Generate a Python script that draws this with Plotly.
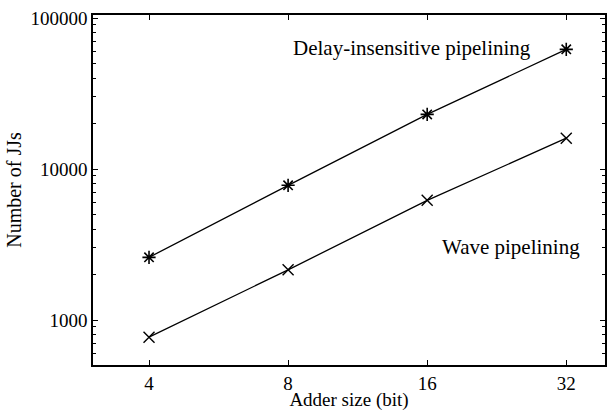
import math
import plotly.graph_objects as go

adder_bits = [4, 8, 16, 32]
di_jjs = [2600, 7800, 23000, 62000]
wave_jjs = [770, 2150, 6200, 16000]
x_ticks = [4, 8, 16, 32]
y_ticks = [1000, 10000, 100000]
y_tick_labels = ["1000", "10000", "100000"]
y_minor = [600, 700, 800, 900, 2000, 3000, 4000, 5000, 6000, 7000, 8000, 9000,
           20000, 30000, 40000, 50000, 60000, 70000, 80000, 90000]

FONT = "Liberation Serif, Times New Roman, serif"

fig = go.Figure()
fig.add_trace(go.Scatter(
    x=adder_bits, y=di_jjs, mode="lines+markers",
    line=dict(color="black", width=1.3),
    marker=dict(symbol="asterisk-open", size=11, color="black",
                line=dict(color="black", width=1.6)),
    showlegend=False))
fig.add_trace(go.Scatter(
    x=adder_bits, y=wave_jjs, mode="lines+markers",
    line=dict(color="black", width=1.3),
    marker=dict(symbol="x-thin-open", size=11, color="black",
                line=dict(color="black", width=1.4)),
    showlegend=False))

fig.add_annotation(x=math.log10(14.85), y=4.80, text="Delay-insensitive pipelining",
                   showarrow=False, font=dict(family=FONT, size=21, color="black"))
fig.add_annotation(x=1.386, y=3.483, text="Wave pipelining",
                   showarrow=False, font=dict(family=FONT, size=21, color="black"))

fig.update_xaxes(type="log", range=[0.4808, 1.589], tickvals=x_ticks,
                 ticktext=[str(v) for v in x_ticks],
                 ticks="inside", ticklen=5, tickwidth=1, tickcolor="black",
                 showline=True, linecolor="black", linewidth=1.5, mirror="ticks",
                 showgrid=False, zeroline=False, automargin=False,
                 title=dict(text="Adder size (bit)", standoff=5,
                            font=dict(family=FONT, size=19, color="black")),
                 tickfont=dict(family=FONT, size=19, color="black"))
fig.update_yaxes(type="log", range=[2.702, 5.02], tickvals=y_ticks,
                 ticktext=y_tick_labels,
                 ticks="inside", ticklen=5, tickwidth=1, tickcolor="black",
                 minor=dict(tickvals=y_minor, ticks="inside", ticklen=3,
                            tickcolor="black", showgrid=False),
                 showline=True, linecolor="black", linewidth=1.5, mirror="ticks",
                 showgrid=False, zeroline=False, automargin=False,
                 title=dict(text="Number of JJs", standoff=3,
                            font=dict(family=FONT, size=20, color="black")),
                 tickfont=dict(family=FONT, size=19, color="black"))

fig.update_layout(width=608, height=411,
                  margin=dict(l=93, r=3, t=15, b=46),
                  paper_bgcolor="white", plot_bgcolor="white",
                  font=dict(family=FONT, color="black"))

fig.write_html("out.html", config={"displayModeBar": False},
               post_script="document.body.style.margin='0';document.body.style.overflow='hidden';")
